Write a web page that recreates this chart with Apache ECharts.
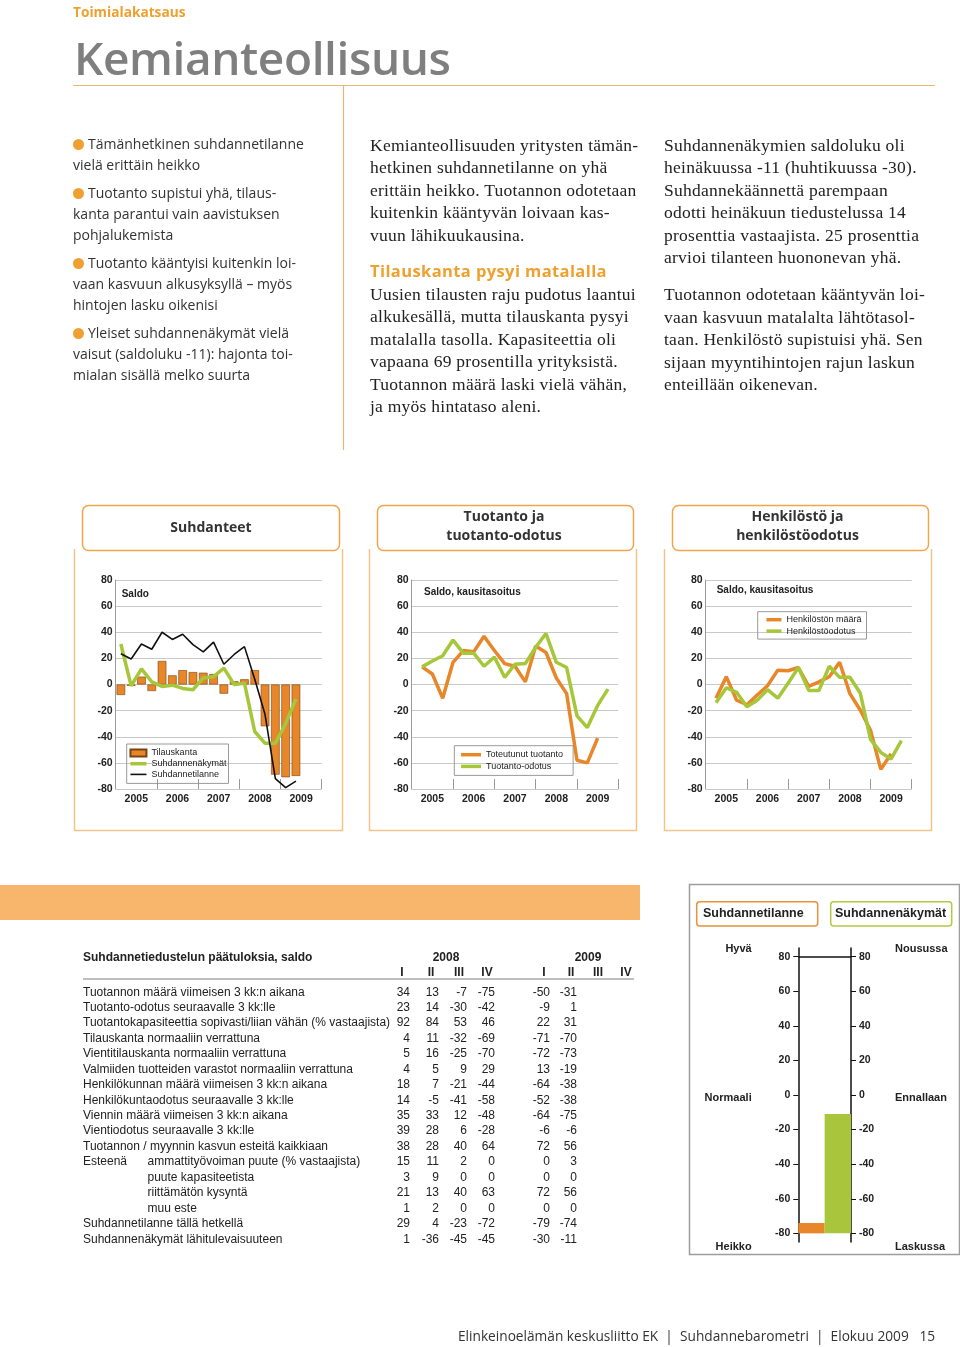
<!DOCTYPE html>
<html lang="fi"><head><meta charset="utf-8"><title>Kemianteollisuus</title>
<script src="https://cdn.jsdelivr.net/npm/echarts@6.0.0/dist/echarts.min.js"></script>
<style>
html,body{margin:0;padding:0;background:#fff;}
#page{position:relative;width:960px;height:1347px;overflow:hidden;background:#fff;}
#chart{position:absolute;left:0;top:0;width:960px;height:1347px;z-index:0;}
.abs{position:absolute;white-space:nowrap;z-index:2;}
.kicker{left:73px;top:1.5px;font:700 13.7px 'Open Sans';color:#EFA12F;}
.title{left:74px;top:26px;font:600 46px 'Open Sans';color:#7f7f7f;letter-spacing:-0.4px;}
.bul{left:73px;top:132.5px;font:400 14px/21px 'Open Sans';color:#333;}
.bul p{margin:0 0 7px 0;}
.dot{display:inline-block;width:11px;height:11px;border-radius:50%;background:#F0A030;margin-right:4px;vertical-align:-1px;}
.serif{font:400 17.5px/22.5px 'Liberation Serif';color:#222;letter-spacing:0.25px;}
.serif p{margin:0;}
.head{font:700 16.5px/22.5px 'Open Sans';color:#EFA12F;letter-spacing:0.4px;}
.tab{font:700 14px/19px 'Open Sans';color:#333;text-align:center;}
.tbl{font:400 12px 'Liberation Sans';color:#222;line-height:14px;}
.tblb{font:700 12px 'Liberation Sans';color:#222;line-height:14px;}
.gl{font:700 11px 'Liberation Sans';color:#222;line-height:14px;}
.foot{font:400 13.7px 'Open Sans';color:#333;line-height:18px;}
</style></head>
<body><div id="page"><div id="chart"></div></div>
<script>
// ---------------- data ----------------
const years = ['2005', '2006', '2007', '2008', '2009'];
const yTicks = [-80, -60, -40, -20, 0, 20, 40, 60, 80];
// Chart 1: Suhdanteet (quarterly from 2005Q1)
const tilauskanta = [-8, -1, 6, -5, 18, 7, 11, 9.5, 9, 8, -7, 2.5, 4, 11, -32, -69, -71, -70];
const suhdannenakymat = [31, -1, 12, 2, -1.5, -0.5, -3, -4, 5, 6, 12.5, 0, 1, -36, -45, -45, -30, -11];
const suhdannetilanne = [23.5, 19.5, 31, 27, 40, 34.5, 38.5, 30.5, 25, 32.5, 15.5, 23, 29, 4, -23, -72, -79, -74];
// Chart 2: Tuotanto ja tuotanto-odotus
const toteutunutTuotanto = [13.5, 8, -10.5, 17, 26, 25, 37, 26, 16, 14, 2, 29.5, 24.5, 5, -7, -58, -60, -41];
const tuotantoOdotus = [13.5, 18, 22, 34, 24, 24, 14, 21, 5.5, 15.5, 16, 28.5, 39, 17, 13, -24, -33, -16, -3.5];
// Chart 3: Henkilöstö ja henkilöstöodotus
const henkilostonMaara = [-10.5, 6, -12, -15.5, -8, -1, 11, 10.5, 13, -1.5, 2, 6, 17, -7, -19.5, -35, -65, -53];
const henkilostoodotus = [-14, -2.5, -6, -17, -12, -4, -10.5, 1, 13, -4.5, -4.5, 14, 5.5, 5.5, -6.5, -42, -52, -57, -43];
// Gauge (2009 II)
const gaugeTicks = [-80, -60, -40, -20, 0, 20, 40, 60, 80];
const gaugeTilanne = -74;
const gaugeNakymat = -11;
// Table
const tableLabels = [
  'Tuotannon määrä viimeisen 3 kk:n aikana',
  'Tuotanto-odotus seuraavalle 3 kk:lle',
  'Tuotantokapasiteettia sopivasti/liian vähän (% vastaajista)',
  'Tilauskanta normaaliin verrattuna',
  'Vientitilauskanta normaaliin verrattuna',
  'Valmiiden tuotteiden varastot normaaliin verrattuna',
  'Henkilökunnan määrä viimeisen 3 kk:n aikana',
  'Henkilökuntaodotus seuraavalle 3 kk:lle',
  'Viennin määrä viimeisen 3 kk:n aikana',
  'Vientiodotus seuraavalle 3 kk:lle',
  'Tuotannon / myynnin kasvun esteitä kaikkiaan',
  'ammattityövoiman puute (% vastaajista)',
  'puute kapasiteetista',
  'riittämätön kysyntä',
  'muu este',
  'Suhdannetilanne tällä hetkellä',
  'Suhdannenäkymät lähitulevaisuuteen'
];
const tableIndent = [0,0,0,0,0,0,0,0,0,0,0,1,1,1,1,0,0];
const vals2008 = [[34,13,-7,-75],[23,14,-30,-42],[92,84,53,46],[4,11,-32,-69],[5,16,-25,-70],[4,5,9,29],[18,7,-21,-44],[14,-5,-41,-58],[35,33,12,-48],[39,28,6,-28],[38,28,40,64],[15,11,2,0],[3,9,0,0],[21,13,40,63],[1,2,0,0],[29,4,-23,-72],[1,-36,-45,-45]];
const vals2009 = [[-50,-31],[-9,1],[22,31],[-71,-70],[-72,-73],[13,-19],[-64,-38],[-52,-38],[-64,-75],[-6,-6],[72,56],[0,3],[0,0],[72,56],[0,0],[-79,-74],[-30,-11]];
const quarterHeads = ['I','II','III','IV'];

// ---------------- HTML text ----------------
const page = document.getElementById('page');
function add(cls, css, html){ const d=document.createElement('div'); d.className='abs '+cls; d.style.cssText=css; d.innerHTML=html; page.appendChild(d); return d; }
add('kicker','', 'Toimialakatsaus');
add('title','', 'Kemianteollisuus');
add('bul','', [
 ['Tämänhetkinen suhdannetilanne','vielä erittäin heikko'],
 ['Tuotanto supistui yhä, tilaus-','kanta parantui vain aavistuksen','pohjalukemista'],
 ['Tuotanto kääntyisi kuitenkin loi-','vaan kasvuun alkusyksyllä – myös','hintojen lasku oikenisi'],
 ['Yleiset suhdannenäkymät vielä','vaisut (saldoluku -11): hajonta toi-','mialan sisällä melko suurta']
].map(p=>'<p><span class="dot"></span>'+p.join('<br>')+'</p>').join(''));
add('serif','left:370px;top:133.7px;', '<p>Kemianteollisuuden yritysten tämän-<br>hetkinen suhdannetilanne on yhä<br>erittäin heikko. Tuotannon odotetaan<br>kuitenkin kääntyvän loivaan kas-<br>vuun lähikuukausina.</p>'+
 '<p class="head" style="margin-top:14.2px">Tilauskanta pysyi matalalla</p>'+
 '<p>Uusien tilausten raju pudotus laantui<br>alkukesällä, mutta tilauskanta pysyi<br>matalalla tasolla. Kapasiteettia oli<br>vapaana 69 prosentilla yrityksistä.<br>Tuotannon määrä laski vielä vähän,<br>ja myös hintataso aleni.</p>');
add('serif','left:664px;top:133.7px;', '<p>Suhdannenäkymien saldoluku oli<br>heinäkuussa -11 (huhtikuussa -30).<br>Suhdannekäännettä parempaan<br>odotti heinäkuun tiedustelussa 14<br>prosenttia vastaajista. 25 prosenttia<br>arvioi tilanteen huononevan yhä.</p>'+
 '<p style="margin-top:14.5px">Tuotannon odotetaan kääntyvän loi-<br>vaan kasvuun matalalta lähtötasol-<br>taan. Henkilöstö supistuisi yhä. Sen<br>sijaan myyntihintojen rajun laskun<br>enteillään oikenevan.</p>');
// chart tabs
add('tab','left:82px;top:517px;width:258px;', 'Suhdanteet');
add('tab','left:375px;top:506px;width:258px;', 'Tuotanto ja<br>tuotanto-odotus');
add('tab','left:668px;top:506px;width:259px;', 'Henkilöstö ja<br>henkilöstöodotus');
// table
add('tblb','left:83px;top:950px;', 'Suhdannetiedustelun päätuloksia, saldo');
add('tblb','left:416px;top:950px;width:60px;text-align:center;', '2008');
add('tblb','left:558px;top:950px;width:60px;text-align:center;', '2009');
const qCenters = [402, 431, 459, 487, 544, 571, 598, 626];
qCenters.forEach((c,i)=>add('tblb',`left:${c-15}px;top:965px;width:30px;text-align:center;`, quarterHeads[i%4]));
const colRight = [410, 439, 467, 495, 550, 577, 604, 632];
tableLabels.forEach((lab,k)=>{
  const y = 991.5 + k*15.44 - 7;
  add('tbl',`left:${tableIndent[k]?147.5:83}px;top:${y}px;`, lab);
  if(k===11) add('tbl',`left:83px;top:${y}px;`, 'Esteenä');
  const vs = vals2008[k].concat(vals2009[k]);
  vs.forEach((v,j)=>add('tbl',`left:${colRight[j]-40}px;top:${y}px;width:40px;text-align:right;`, String(v)));
});
// gauge side labels
add('gl','left:700px;top:940.7px;width:51.7px;text-align:right;', 'Hyvä');
add('gl','left:680px;top:1089.7px;width:71.7px;text-align:right;', 'Normaali');
add('gl','left:690px;top:1238.7px;width:61.7px;text-align:right;', 'Heikko');
add('gl','left:895px;top:940.7px;', 'Nousussa');
add('gl','left:895px;top:1089.7px;', 'Ennallaan');
add('gl','left:895px;top:1238.7px;', 'Laskussa');
add('tblb','left:703px;top:906px;font-size:12.5px;', 'Suhdannetilanne');
add('tblb','left:835px;top:906px;font-size:12.5px;', 'Suhdannenäkymät');
add('foot','left:458px;top:1327px;', 'Elinkeinoelämän keskusliitto EK&nbsp; |&nbsp; Suhdannebarometri&nbsp; |&nbsp; Elokuu 2009&nbsp;&nbsp; 15');

// ---------------- ECharts ----------------
const ORANGE = '#E8862A', GREEN = '#A6C73A', GRIDC = '#c9c9c9', TAN = '#F1C58A';
const FONT = 'Liberation Sans';
const chart = echarts.init(document.getElementById('chart'), null, {renderer:'canvas'});

const grids = [
  {left:115.7, top:580, width:206, height:209},
  {left:411.7, top:580, width:206.6, height:209},
  {left:705.7, top:580, width:206, height:209},
  {left:798.3, top:948, width:52.7, height:294}
];
function valX(g){ return {type:'value', gridIndex:g, min:0, max:20, show:false}; }
function yearX(g){ return {type:'category', gridIndex:g, data:years, position:'bottom',
  axisLine:{show:false}, axisTick:{show:true, inside:true, length:10, lineStyle:{color:'#9a9a9a'}},
  axisLabel:{fontFamily:FONT, fontWeight:'bold', fontSize:10.5, color:'#222', margin:5}, splitLine:{show:false}}; }
function valY(g){ return {type:'value', gridIndex:g, min:-80, max:80, interval:20,
  axisLine:{show:true, lineStyle:{color:'#9a9a9a'}}, axisTick:{show:false},
  axisLabel:{fontFamily:FONT, fontWeight:'bold', fontSize:10.5, color:'#222', margin:3},
  splitLine:{show:true, lineStyle:{color:GRIDC, width:1}}}; }
function gaugeY(pos){ return {type:'value', gridIndex:3, min:-85, max:85, position:pos,
  axisLine:{show:true, lineStyle:{color:'#111', width:1.5}},
  axisTick:{show:true, length:5, customValues:gaugeTicks, lineStyle:{color:'#111'}},
  axisLabel:{customValues:gaugeTicks, fontFamily:FONT, fontWeight:'bold', fontSize:10.5, color:'#222', margin:8},
  splitLine:{show:false}}; }

const lineS = (name, xi, yi, data, offset, color, w, z) => ({
  name, type:'line', xAxisIndex:xi, yAxisIndex:yi, symbol:'none', z,
  data:data.map((v,i)=>[i+offset, v]), lineStyle:{color, width:w}, itemStyle:{color}, animation:false
});
const lineLegend = (name, w) => ({name, itemStyle:{opacity:0}, lineStyle:{width:w}});
const legendText = {fontFamily:FONT, fontSize:9, color:'#222', lineHeight:10};

const option = {
  animation:false,
  textStyle:{fontFamily:FONT},
  grid:grids,
  xAxis:[valX(0), yearX(0), valX(1), yearX(1), valX(2), yearX(2),
    {type:'category', gridIndex:3, data:['Suhdannetilanne','Suhdannenäkymät'], show:false}],
  yAxis:[valY(0), valY(1), valY(2), gaugeY('left'), gaugeY('right'),
    {type:'value', gridIndex:3, min:-5, max:165, show:false}],
  title:[
    {text:'Saldo', left:121.7, top:589.5, padding:0, textStyle:{fontFamily:FONT, fontSize:10, fontWeight:'bold', color:'#222'}},
    {text:'Saldo, kausitasoitus', left:424, top:587, padding:0, textStyle:{fontFamily:FONT, fontSize:10, fontWeight:'bold', color:'#222'}},
    {text:'Saldo, kausitasoitus', left:716.7, top:585.5, padding:0, textStyle:{fontFamily:FONT, fontSize:10, fontWeight:'bold', color:'#222'}}
  ],
  legend:[
    {data:[{name:'Tilauskanta', icon:'rect'}, lineLegend('Suhdannenäkymät', 3.5), lineLegend('Suhdannetilanne', 1.6)],
     orient:'vertical', left:126.7, top:744,
     itemWidth:16, itemHeight:7, itemGap:0.7, padding:[4,2,4,2], borderColor:'#9a9a9a', borderWidth:1,
     textStyle:legendText, selectedMode:false},
    {data:[lineLegend('Toteutunut tuotanto', 3.5), lineLegend('Tuotanto-odotus', 3.5)], orient:'vertical', left:454.3, top:745.7,
     itemWidth:20, itemHeight:8, itemGap:1.7, padding:[4,10,4,5], borderColor:'#9a9a9a', borderWidth:1,
     textStyle:legendText, selectedMode:false},
    {data:[lineLegend('Henkilöstön määrä', 3.5), lineLegend('Henkilöstöodotus', 3.5)], orient:'vertical', left:757.7, top:611.7,
     itemWidth:15, itemHeight:7, itemGap:1.4, padding:[3,5,3,7], borderColor:'#9a9a9a', borderWidth:1,
     textStyle:legendText, selectedMode:false}
  ],
  series:[
    {name:'Tilauskanta', type:'bar', xAxisIndex:0, yAxisIndex:0, barWidth:8.6, z:2,
     data:tilauskanta.map((v,i)=>[i+0.5, v]),
     itemStyle:{color:ORANGE, borderColor:'#7a4310', borderWidth:0.6}},
    lineS('Suhdannenäkymät', 0, 0, suhdannenakymat, 0.5, GREEN, 3.5, 3),
    lineS('Suhdannetilanne', 0, 0, suhdannetilanne, 0.5, '#111', 1.6, 4),
    lineS('Toteutunut tuotanto', 2, 1, toteutunutTuotanto, 1, ORANGE, 3.5, 3),
    lineS('Tuotanto-odotus', 2, 1, tuotantoOdotus, 1, GREEN, 3.5, 4),
    lineS('Henkilöstön määrä', 4, 2, henkilostonMaara, 1, ORANGE, 3.5, 3),
    lineS('Henkilöstöodotus', 4, 2, henkilostoodotus, 1, GREEN, 3.5, 4),
    {name:'Mittari', type:'bar', xAxisIndex:6, yAxisIndex:5, barCategoryGap:'0%',
     data:[{value:gaugeTilanne - gaugeTicks[0], itemStyle:{color:ORANGE}},
           {value:gaugeNakymat - gaugeTicks[0], itemStyle:{color:'#A9C53B'}}],
     markLine:{silent:true, symbol:'none', label:{show:false},
       lineStyle:{color:'#111', width:1.5, type:'solid'},
       data:[{yAxis:gaugeTicks[gaugeTicks.length-1] - gaugeTicks[0]}]}}
  ],
  graphic:[
    // header rules
    {type:'line', shape:{x1:73, y1:85.5, x2:935, y2:85.5}, style:{stroke:'#E9B874', lineWidth:1.2}, silent:true},
    {type:'line', shape:{x1:343.5, y1:85, x2:343.5, y2:450}, style:{stroke:'#E9B874', lineWidth:1.2}, silent:true},
    // chart panels
    ...[[74,342],[369,636],[664,931]].flatMap(([a,b])=>[
      {type:'polyline', shape:{points:[[a+0.5,549],[a+0.5,830.5],[b+0.5,830.5],[b+0.5,549]]}, style:{stroke:TAN, lineWidth:1.5, fill:null}, silent:true},
      {type:'rect', shape:{x:a+8.5, y:505.5, width:b-a-11, height:45, r:6}, style:{stroke:'#EFA64A', lineWidth:1.5, fill:'#fff'}, silent:true}
    ]),
    // bottom band and gauge frame
    {type:'rect', shape:{x:0, y:885, width:640, height:35}, style:{fill:'#F8B66C'}, silent:true},
    {type:'rect', shape:{x:689.5, y:884.5, width:270, height:370}, style:{stroke:'#9d9d9d', lineWidth:1.5, fill:null}, silent:true},
    {type:'rect', shape:{x:696.7, y:901.7, width:121, height:24.3, r:3}, style:{stroke:'#E8923A', lineWidth:1.5, fill:'#fff'}, silent:true},
    {type:'rect', shape:{x:830.7, y:901.7, width:121, height:24.3, r:3}, style:{stroke:'#B5C844', lineWidth:1.5, fill:'#fff'}, silent:true},
    // table rule
    {type:'line', shape:{x1:83, y1:979, x2:634, y2:979}, style:{stroke:'#aaa', lineWidth:1.5}, silent:true}
  ]
};
chart.setOption(option);
</script></body></html>
